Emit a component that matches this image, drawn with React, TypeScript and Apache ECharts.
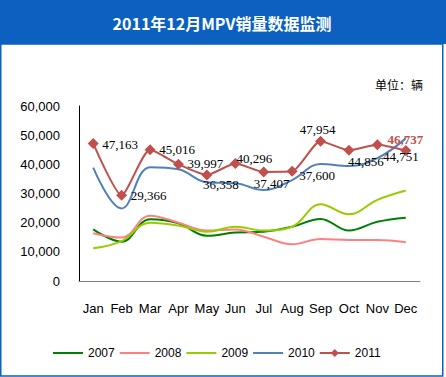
import React, { useEffect, useRef } from "react";
import * as echarts from "echarts";

const months = ["Jan", "Feb", "Mar", "Apr", "May", "Jun", "Jul", "Aug", "Sep", "Oct", "Nov", "Dec"];
const yTicks = [0, 10000, 20000, 30000, 40000, 50000, 60000];
const s2007 = [17700, 13500, 21200, 19800, 15500, 16600, 16900, 18600, 21300, 17300, 20300, 21700];
const s2008 = [16400, 14900, 22400, 20000, 17300, 17700, 15200, 12600, 14400, 14100, 14100, 13300];
const s2009 = [11200, 13700, 20000, 19000, 16900, 18600, 17300, 18600, 26300, 22900, 27800, 31000];
const s2010 = [38900, 24900, 39000, 38300, 33800, 33500, 31200, 34600, 40100, 39400, 42100, 48900];
const s2011 = [47163, 29366, 45016, 39997, 36358, 40296, 37407, 37600, 47954, 44856, 46737, 44751];
const seriesNames = ["2007", "2008", "2009", "2010", "2011"];
const title = "2011年12月MPV销量数据监测";
const unitText = "单位：辆";

// label offsets (style only) for the 2011 data labels
const labelOffsets: [number, number][] = [
  [27, 1], [27, 0], [27, 0], [27, -1], [14, 10], [19, -5],
  [8, 12], [25, 4], [-3, -12], [17, 11], [28, -5], [-5, 6],
];

const LINE_ICON = "path://M0,4 H30 V6 H0 Z M0,0 H0.01 V10 H0 Z";
const DIAMOND_ICON = "path://M0,4 H30 V6 H0 Z M15,1 L19,5 L15,9 L11,5 Z M0,0 H0.01 V10 H0 Z";

export default function App() {
  const ref = useRef<HTMLDivElement>(null);
  useEffect(() => {
    const chart = echarts.init(ref.current!, null, { renderer: "svg" });
    const fmt = (v: number) => v.toString().replace(/\B(?=(\d{3})+(?!\d))/g, ",");
    const colors = ["#008000", "#FF8080", "#99CC00", "#4F81BD", "#C0504D"];
    const plain = [s2007, s2008, s2009, s2010];
    chart.setOption({
      animation: false,
      color: colors,
      graphic: [
        { type: "rect", shape: { x: 0, y: 0, width: 446, height: 44 }, style: { fill: "#0B60C0" }, z: 0 },
        { type: "rect", shape: { x: 0.75, y: 44, width: 442, height: 332 }, style: { fill: "none", stroke: "#0B60C0", lineWidth: 1.5 }, z: 0 },
        { type: "text", x: 222, y: 23, style: { text: title, fill: "#ffffff", font: "bold 16px 'Noto Sans CJK SC'", align: "center", verticalAlign: "middle" }, z: 10 },
        { type: "text", x: 423, y: 84, style: { text: unitText, fill: "#000000", font: "12px 'Noto Sans CJK SC'", align: "right", verticalAlign: "middle" }, z: 10 },
      ],
      grid: { left: 79, right: 26, top: 106, bottom: 96, containLabel: false },
      legend: {
        left: 48,
        top: 342,
        itemWidth: 30,
        itemHeight: 10,
        itemGap: 5,
        data: seriesNames.map((n, i) => ({ name: n, icon: i === 4 ? DIAMOND_ICON : LINE_ICON })),
        textStyle: { fontFamily: "Liberation Sans", fontSize: 12, color: "#000" },
      },
      xAxis: {
        type: "category",
        data: months,
        boundaryGap: true,
        axisLine: { lineStyle: { color: "#808080", width: 1 } },
        axisTick: { inside: true, length: 5, lineStyle: { color: "#808080" } },
        axisLabel: { margin: 21, fontFamily: "Liberation Sans", fontSize: 13, color: "#000", interval: 0 },
      },
      yAxis: {
        type: "value",
        min: yTicks[0],
        max: yTicks[yTicks.length - 1],
        interval: 10000,
        splitLine: { show: false },
        axisLine: { show: true, lineStyle: { color: "#000", width: 1 } },
        axisTick: { show: false },
        axisLabel: { margin: 19, fontFamily: "Liberation Sans", fontSize: 13, color: "#000", formatter: (v: number) => fmt(v) },
      },
      series: [
        ...plain.map((d, i) => ({
          name: seriesNames[i],
          type: "line",
          data: d,
          smooth: 0.4,
          symbol: "none",
          lineStyle: { width: 2, color: colors[i] },
          itemStyle: { color: colors[i] },
          z: 2 + i,
        })),
        {
          name: seriesNames[4],
          type: "line",
          data: s2011.map((v, i) => ({
            value: v,
            label: {
              show: true,
              position: "inside",
              offset: labelOffsets[i],
              formatter: fmt(v),
              align: "center",
              verticalAlign: "middle",
              fontFamily: "Liberation Serif",
              fontSize: 13,
              color: i === 10 ? "#C0504D" : "#000",
              fontWeight: i === 10 ? "bold" : "normal",
            },
          })),
          smooth: 0.2,
          symbol: "diamond",
          symbolSize: 11,
          lineStyle: { width: 2, color: colors[4] },
          itemStyle: { color: colors[4] },
          z: 10,
        },
      ],
    });
    return () => chart.dispose();
  }, []);
  return <div ref={ref} style={{ width: 446, height: 377, position: "absolute", left: 0, top: 0 }} />;
}
